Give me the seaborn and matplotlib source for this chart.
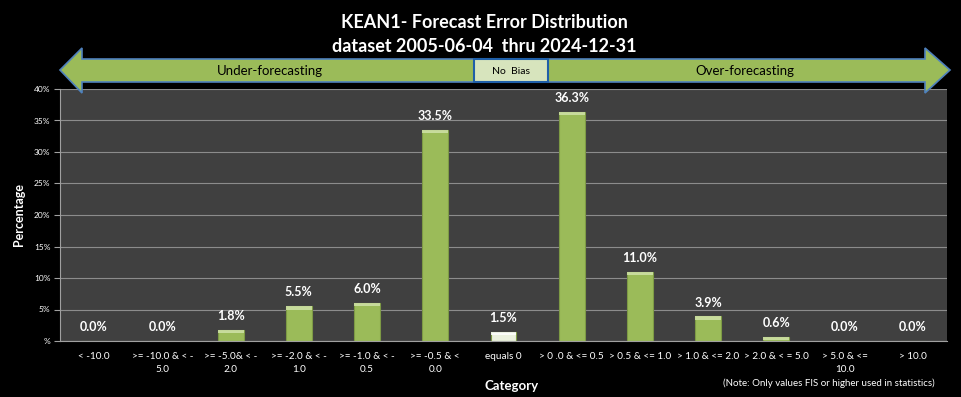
import numpy as np
import pandas as pd
import matplotlib
matplotlib.use('Agg')
import matplotlib.pyplot as plt
import seaborn as sns
from matplotlib.patches import Polygon, Rectangle

# Chart data
categories = ['< -10.0', '>= -10.0 & < -\n5.0', '>= -5.0& < -\n2.0', '>= -2.0 & < -\n1.0',
              '>= -1.0 & < -\n0.5', '>= -0.5 & <\n0.0', 'equals 0', '> 0 .0 & <= 0.5',
              '> 0.5 & <= 1.0', '> 1.0 & <= 2.0', '> 2.0 & < = 5.0', '> 5.0 & <=\n10.0', '> 10.0']
percent = [0.0, 0.0, 1.8, 5.5, 6.0, 33.5, 1.5, 36.3, 11.0, 3.9, 0.6, 0.0, 0.0]
bar_colors = ['#9bbb59'] * 6 + ['#ebf1de'] + ['#9bbb59'] * 6
y_ticks = [0, 5, 10, 15, 20, 25, 30, 35, 40]
y_tick_labels = ['%', '5%', '10%', '15%', '20%', '25%', '30%', '35%', '40%']

df = pd.DataFrame({'category': categories, 'percent': percent})

sns.set_style('dark')
plt.rcParams['font.family'] = ['Lato', 'DejaVu Sans']

W, H = 961, 397
fig = plt.figure(figsize=(W / 100, H / 100), dpi=100, facecolor='black')
ax = fig.add_axes([60 / W, 1 - 341 / H, 887 / W, 252 / H])
ax.set_facecolor('#404040')

sns.barplot(data=df, x='category', y='percent', hue='category', palette=bar_colors,
            legend=False, width=0.38, saturation=1, edgecolor='#7d9a45', linewidth=0.8, ax=ax)

# lighter top cap on each bar
for i, v in enumerate(percent):
    if v > 0.3:
        cap = '#ffffff' if bar_colors[i] != '#9bbb59' else '#d0e2a8'
        ax.add_patch(Rectangle((i - 0.19, v - 0.5), 0.38, 0.5, facecolor=cap,
                               edgecolor='none', alpha=0.85, zorder=3))
    ax.text(i, v + 1.25, f'{v:.1f}%', ha='center', va='bottom', color='white',
            fontsize=9, fontweight='bold')

ax.set_ylim(0, 40)
ax.set_xlim(-0.5, len(categories) - 0.5)
ax.set_yticks(y_ticks)
ax.set_yticklabels(y_tick_labels, color='white', fontsize=6)
ax.yaxis.grid(True, color='#8c8c8c', linewidth=0.8)
ax.set_axisbelow(True)

ax.set_xticks(range(len(categories)))
ax.set_xticklabels(categories, color='white', fontsize=7.2, linespacing=1.6)
ax.tick_params(axis='x', length=0, pad=8)
ax.set_xticks(np.arange(-0.5, len(categories), 1), minor=True)
ax.tick_params(axis='x', which='minor', length=4, color='#a0a0a0', direction='out')
ax.tick_params(axis='y', length=4, color='#a0a0a0', direction='out', left=True, pad=3)

for s in ['top', 'right']:
    ax.spines[s].set_visible(False)
for s in ['left', 'bottom']:
    ax.spines[s].set_color('#a0a0a0')
    ax.spines[s].set_linewidth(0.8)

ax.set_xlabel('Category', color='white', fontsize=9.5, fontweight='bold')
ax.set_ylabel('Percentage', color='white', fontsize=9, fontweight='bold')
ax.xaxis.set_label_coords((512 - 60) / 887, -0.155)
ax.yaxis.set_label_coords(-0.04, 0.5)

# title
fig.text(484 / W, 1 - 22 / H, 'KEAN1- Forecast Error Distribution', ha='center', va='center',
         color='white', fontsize=13, fontweight='bold')
fig.text(484 / W, 1 - 47 / H, 'dataset 2005-06-04  thru 2024-12-31', ha='center', va='center',
         color='white', fontsize=13, fontweight='bold')

# double headed arrow
pts = [(60, 70), (82, 48), (82, 59), (925, 59), (925, 48), (950, 70),
       (925, 93), (925, 82), (82, 82), (82, 93)]
arrow = Polygon([(x / W, 1 - y / H) for x, y in pts], closed=True, transform=fig.transFigure,
                facecolor='#9bbb59', edgecolor='#4f81bd', linewidth=1.2)
fig.patches.append(arrow)
box = Rectangle((474 / W, 1 - 82 / H), 74 / W, 23 / H, transform=fig.transFigure,
                facecolor='#d7e4bd', edgecolor='#1f5fa8', linewidth=1.5)
fig.patches.append(box)
fig.text(270 / W, 1 - 71 / H, 'Under-forecasting', ha='center', va='center', color='black', fontsize=9.5)
fig.text(511 / W, 1 - 71 / H, 'No  Bias', ha='center', va='center', color='black', fontsize=7.5)
fig.text(745 / W, 1 - 71 / H, 'Over-forecasting', ha='center', va='center', color='black', fontsize=9.5)

fig.text(829 / W, 1 - 383 / H, '(Note: Only values FIS or higher used in statistics)', ha='center',
         va='center', color='white', fontsize=7)

fig.savefig('out.png', dpi=100, facecolor='black')
